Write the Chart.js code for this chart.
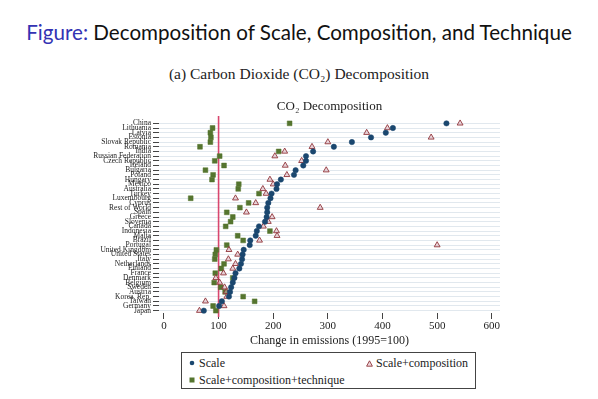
<!DOCTYPE html>
<html>
<head>
<meta charset="utf-8">
<script src="https://cdn.jsdelivr.net/npm/chart.js@4.4.0/dist/chart.umd.min.js"></script>
<style>
  body { margin:0; width:598px; height:399px; background:#fff; position:relative; overflow:hidden; }
  .fig-title { position:absolute; left:0; top:18px; width:598px; text-align:center; font-family:Lato, sans-serif; font-size:20.6px; line-height:28px; color:#111; white-space:nowrap; }
  .fig-title span { color:#3333b3; }
  .sub-title { position:absolute; left:0; top:64px; width:598px; text-align:center; font-family:'Liberation Serif', serif; font-size:15.5px; line-height:20px; color:#222; }
  #chartWrap { position:absolute; left:0; top:100px; }
  .legend-box { position:absolute; left:181px; top:352px; width:293px; height:35px; border:1px solid #444; font-family:'Liberation Serif', serif; font-size:12px; color:#222; }
  .legend-item { position:absolute; white-space:nowrap; line-height:14px; }
  .legend-item svg { position:absolute; left:-10px; top:4px; }
</style>
</head>
<body>
<div class="fig-title"><span>Figure:</span> Decomposition of Scale, Composition, and Technique</div>
<div class="sub-title">(a) Carbon Dioxide (CO₂) Decomposition</div>
<div id="chartWrap"><canvas id="co2Chart" width="598" height="250"></canvas></div>
<div class="legend-box" id="legendBox"></div>

<script>
// Data (top row first), change in emissions, 1995 = 100
const countries = [
  'China','Lithuania','Latvia','Estonia','Slovak Republic','Romania','India',
  'Russian Federation','Czech Republic','Ireland','Bulgaria','Poland','Hungary',
  'Mexico','Australia','Turkey','Luxembourg','Cyprus','Rest of World','Spain',
  'Greece','Slovenia','Canada','Indonesia','Malta','Brazil','Portugal',
  'United Kingdom','United States','Italy','Netherlands','Finland','France',
  'Denmark','Belgium','Sweden','Austria','Korea, Rep.','Taiwan','Germany','Japan'
];
const scaleVals = [
  517,419,406,379,344,311,273,
  260,260,255,241,238,214,
  207,206,197,195,191,189,189,
  188,185,174,170,168,158,157,
  146,144,143,141,138,131,
  129,126,123,121,119,106,101,73
];
const scaleCompVals = [
  542,409,371,489,300,271,221,
  203,252,222,297,225,194,
  200,181,187,131,168,286,151,
  198,191,182,206,207,175,500,
  119,135,118,131,126,109,
  95,102,111,114,115,76,110,65
];
const scaleCompTechVals = [
  230,89,85,86,85,66,210,
  102,93,110,76,90,88,
  137,136,174,49,155,139,115,
  126,122,113,194,135,145,115,
  96,94,93,110,105,94,
  126,92,104,112,145,166,90,95
];
const xTicks = [0,100,200,300,400,500,600];
const baseLevel = 100;
const seriesNames = ['Scale','Scale+composition','Scale+composition+technique'];

const NAVY = '#1a476f', MAROON = '#90353b', GREEN = '#55752f';
const SERIF = '"Liberation Serif", "DejaVu Serif", serif';

// red reference line at 1995 level
const refLine = {
  id: 'refLine',
  beforeDatasetsDraw(chart) {
    const {ctx, chartArea, scales} = chart;
    const x = scales.x.getPixelForValue(baseLevel);
    ctx.save();
    ctx.strokeStyle = '#d9466e';
    ctx.lineWidth = 1.6;
    ctx.beginPath();
    ctx.moveTo(x, chartArea.top - 5);
    ctx.lineTo(x, chartArea.bottom + 4);
    ctx.stroke();
    ctx.restore();
  }
};

// plot title centred over the plot region
const plotTitle = {
  id: 'plotTitle',
  afterDraw(chart) {
    const {ctx, chartArea} = chart;
    ctx.save();
    ctx.font = '13px ' + SERIF;
    ctx.fillStyle = '#222';
    ctx.textAlign = 'center';
    ctx.textBaseline = 'middle';
    ctx.fillText('CO₂ Decomposition', (chartArea.left + chartArea.right) / 2, chartArea.top - 14);
    ctx.restore();
  }
};

new Chart(document.getElementById('co2Chart'), {
  type: 'line',
  data: {
    labels: countries,
    datasets: [
      { label: seriesNames[0], data: scaleVals, showLine: false, pointStyle: 'circle',
        pointRadius: 2.7, pointBackgroundColor: NAVY, pointBorderColor: NAVY, pointBorderWidth: 0.5 },
      { label: seriesNames[1], data: scaleCompVals, showLine: false, pointStyle: 'triangle',
        pointRadius: 3.4, pointBackgroundColor: 'rgba(222,175,185,0.5)', pointBorderColor: MAROON, pointBorderWidth: 0.9 },
      { label: seriesNames[2], data: scaleCompTechVals, showLine: false, pointStyle: 'rect',
        pointRadius: 3.4, pointBackgroundColor: GREEN, pointBorderColor: GREEN, pointBorderWidth: 0.5 }
    ]
  },
  options: {
    indexAxis: 'y',
    responsive: false,
    animation: false,
    layout: { padding: { left: 0, right: 98, top: 21, bottom: 0 } },
    plugins: { legend: { display: false }, tooltip: { enabled: false } },
    scales: {
      x: {
        type: 'linear', min: -9, max: 615,
        afterBuildTicks: s => { s.ticks = xTicks.map(v => ({ value: v })); },
        afterFit: s => { s.height = 37; },
        border: { display: false },
        grid: { drawOnChartArea: false, tickLength: 6, tickColor: '#444', tickWidth: 1 },
        ticks: { font: { family: SERIF, size: 11 }, color: '#222', padding: 1, maxRotation: 0 },
        title: { display: true, text: 'Change in emissions (1995=100)', color: '#222',
                 font: { family: SERIF, size: 12 }, padding: { top: 0, bottom: 2 } }
      },
      y: {
        type: 'category', offset: true,
        afterFit: s => { s.width = 159; },
        border: { display: false },
        grid: { color: '#e1e8ee', offset: false, tickLength: 6, tickColor: '#444' },
        ticks: { autoSkip: false, font: { family: SERIF, size: 7.5 }, color: '#222', padding: 2 }
      }
    }
  },
  plugins: [refLine, plotTitle]
});

// legend box
const markers = [
  '<svg width="6" height="6"><circle cx="3" cy="3" r="2.3" fill="' + NAVY + '"/></svg>',
  '<svg width="7" height="7"><polygon points="3.5,0.8 6.4,6.2 0.6,6.2" fill="rgba(222,175,185,0.5)" stroke="' + MAROON + '" stroke-width="0.9"/></svg>',
  '<svg width="6" height="6"><rect x="0.5" y="0.5" width="5" height="5" fill="' + GREEN + '"/></svg>'
];
const legendPos = [[17, 3], [194, 3], [17, 20]];
document.getElementById('legendBox').innerHTML = seriesNames.map((n, i) =>
  `<div class="legend-item" style="left:${legendPos[i][0]}px;top:${legendPos[i][1]}px">${markers[i]}${n}</div>`
).join('');
</script>
</body>
</html>
